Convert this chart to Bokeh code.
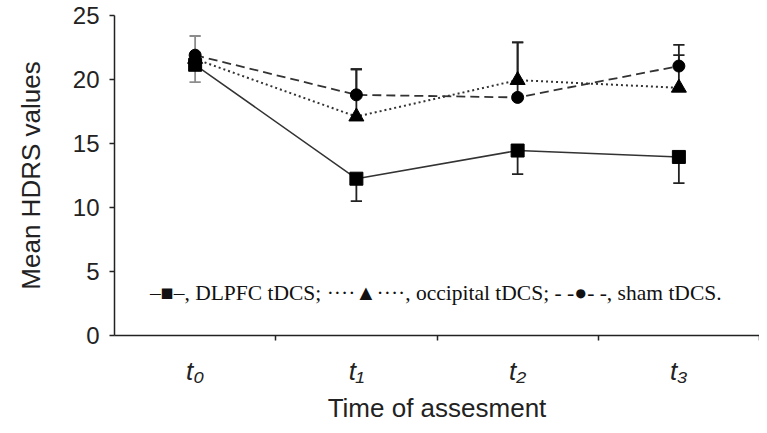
from bokeh.plotting import figure
from bokeh.models import FixedTicker, Range1d, ColumnDataSource, Label
from bokeh.embed import file_html
from bokeh.resources import INLINE

# ---- data ----
time_labels = ["t\u2080", "t\u2081", "t\u2082", "t\u2083"]
dlpfc = [21.15, 12.25, 14.45, 13.95]
occipital = [21.6, 17.1, 19.95, 19.35]
sham = [21.9, 18.8, 18.6, 21.05]
# error bar ends (None = not shown)
dlpfc_low = [19.8, 10.5, 12.6, 11.9]
occipital_high = [None, 20.8, 22.9, 21.9]
sham_high = [23.4, 20.8, 22.9, 22.7]
y_ticks = [0, 5, 10, 15, 20, 25]

xs = [i + 0.5 for i in range(len(time_labels))]

p = figure(width=759, height=425, output_backend="svg", toolbar_location=None,
           x_range=Range1d(0, 4), y_range=Range1d(0, 25),
           min_border_left=114, min_border_right=0, min_border_top=15, min_border_bottom=90)
p.outline_line_color = None
p.xgrid.visible = False
p.ygrid.visible = False
p.background_fill_color = "white"
p.border_fill_color = "white"

ink = "#222222"

# ---- error bars ----
def add_err(vals, ends, color_first="#8c8c8c"):
    x0, y0, y1, cols = [], [], [], []
    for i, (v, e) in enumerate(zip(vals, ends)):
        if e is None:
            continue
        x0.append(xs[i]); y0.append(v); y1.append(e)
        cols.append(color_first if i == 0 else ink)
    src = ColumnDataSource(dict(x=x0, y0=y0, y1=y1, c=cols,
                                xl=[x - 0.035 for x in x0], xr=[x + 0.035 for x in x0]))
    p.segment(x0="x", y0="y0", x1="x", y1="y1", line_color="c", line_width=1.8, source=src)
    p.segment(x0="xl", y0="y1", x1="xr", y1="y1", line_color="c", line_width=1.8, source=src)

add_err(dlpfc, dlpfc_low)
add_err(occipital, occipital_high)
add_err(sham, sham_high)

# ---- lines ----
p.line(xs, dlpfc, line_color="#333333", line_width=1.5)
p.line(xs, occipital, line_color="#333333", line_width=2, line_dash="2 3")
p.line(xs, sham, line_color="#333333", line_width=1.8, line_dash="9 5")

p.scatter(xs, occipital, marker="triangle", size=15, fill_color="black", line_color="black")
p.scatter(xs, sham, marker="circle", size=12, fill_color="black", line_color="black")
p.scatter(xs, dlpfc, marker="square", size=13, fill_color="black", line_color="black")

# ---- legend-like caption inside plot ----
cap = Label(x=0.22, y=3.3,
            text="\u2013\u25a0\u2013, DLPFC tDCS; \u00b7\u00b7\u00b7\u00b7\u25b2\u00b7\u00b7\u00b7\u00b7, occipital tDCS; - -\u25cf- -, sham tDCS.",
            text_font="Liberation Serif", text_font_size="21.5px", text_baseline="middle",
            text_color="#111111")
p.add_layout(cap)

# ---- axes ----
xa = p.xaxis[0]
xa.ticker = FixedTicker(ticks=xs, minor_ticks=[1, 2, 3, 4])
xa.major_label_overrides = {x: lab for x, lab in zip(xs, time_labels)}
xa.major_tick_out = 0
xa.major_tick_in = 0
xa.minor_tick_out = 5
xa.minor_tick_in = 0
xa.minor_tick_line_color = ink
xa.minor_tick_line_width = 1.5
xa.major_label_text_font = "Liberation Sans"
xa.major_label_text_font_style = "italic"
xa.major_label_text_font_size = "26px"
xa.major_label_text_color = ink
xa.major_label_standoff = 15
xa.axis_line_color = ink
xa.axis_line_width = 1.5
xa.axis_label = "Time of assesment"
xa.axis_label_text_font = "Liberation Sans"
xa.axis_label_text_font_style = "normal"
xa.axis_label_text_font_size = "26px"
xa.axis_label_text_color = ink
xa.axis_label_standoff = 4

ya = p.yaxis[0]
ya.ticker = FixedTicker(ticks=y_ticks, minor_ticks=[])
ya.major_tick_out = 5
ya.major_tick_in = 0
ya.major_tick_line_color = ink
ya.major_tick_line_width = 1.5
ya.major_label_text_font = "Liberation Sans"
ya.major_label_text_font_size = "24px"
ya.major_label_text_color = ink
ya.major_label_standoff = 10
ya.axis_line_color = ink
ya.axis_line_width = 1.5
ya.axis_label = "Mean HDRS values"
ya.axis_label_text_font = "Liberation Sans"
ya.axis_label_text_font_style = "normal"
ya.axis_label_text_font_size = "26px"
ya.axis_label_text_color = ink
ya.axis_label_standoff = 24

open("out.html", "w").write(file_html(p, INLINE))
